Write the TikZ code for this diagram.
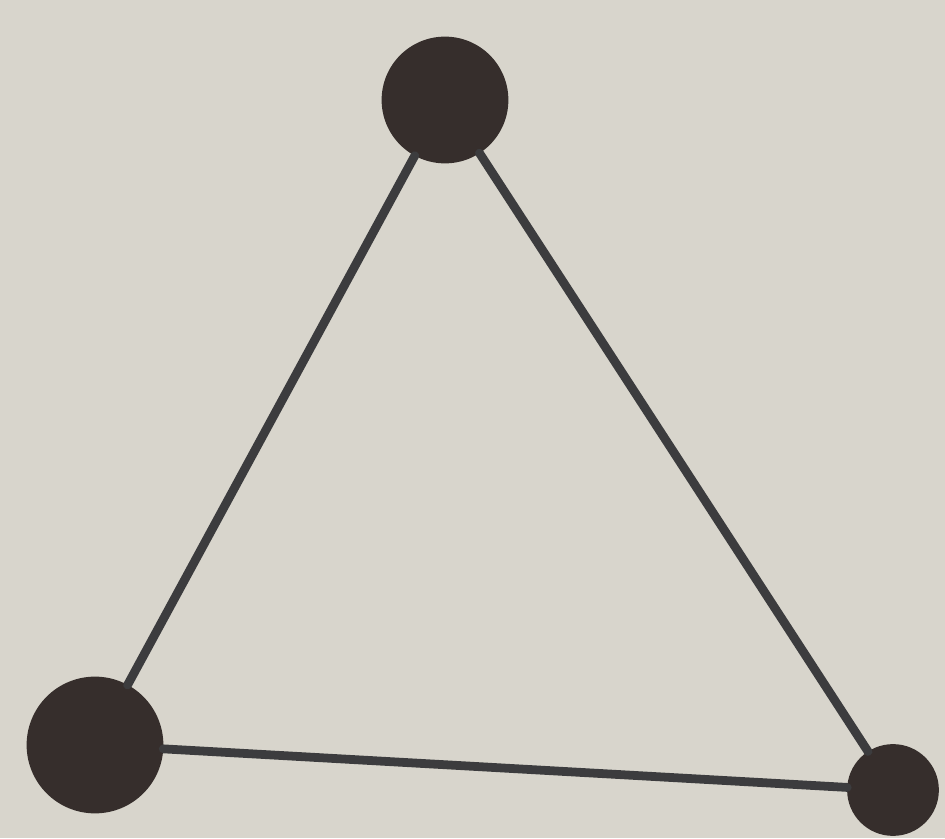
\documentclass[tikz,border=0pt]{standalone}
\usepackage{xcolor}
\usepackage{tikz}
\definecolor{paperBeige}{HTML}{D8D5CC}
\definecolor{inkDark}{HTML}{362E2C}
\definecolor{inkLine}{HTML}{3C3C3E}
\tikzset{
  dotnode/.style={circle, draw=inkDark, fill=inkDark, line width=1pt, inner sep=0pt, minimum size=#1},
  edgeline/.style={draw=inkLine, line width=5pt, line cap=round},
}

\begin{document}
\begin{tikzpicture}[x=1cm,y=1cm]
  \fill[paperBeige] (0,0) rectangle (18.9,16.76);
  \useasboundingbox (0,0) rectangle (18.9,16.76);

  \node[dotnode=2.5cm] (top) at (8.9,14.76) {};
  \node[dotnode=2.7cm] (left) at (1.9,1.86) {};
  \node[dotnode=1.8cm] (right) at (17.86,0.96) {};

  \draw[edgeline] (top) -- (left);
  \draw[edgeline] (top) -- (right);
  \draw[edgeline] (left) -- (right);
\end{tikzpicture}
\end{document}
